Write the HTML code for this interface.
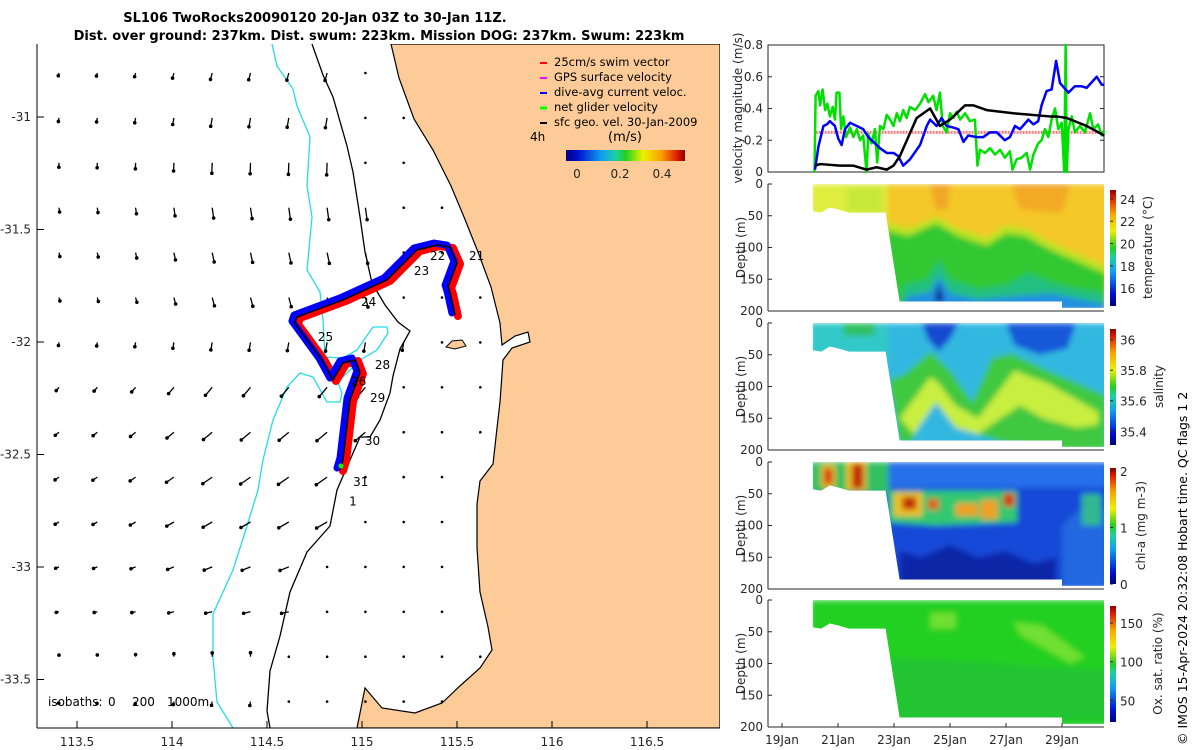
<!DOCTYPE html>
<html><head><meta charset="utf-8">
<style>
html,body{margin:0;padding:0;background:#fff;}
svg{display:block;font-family:"DejaVu Sans","Liberation Sans",sans-serif;}
.tk{font-size:12px;fill:#262626;}
</style></head>
<body>
<svg id="fig" width="1200" height="750" viewBox="0 0 1200 750">
<defs>
  <linearGradient id="jetV" x1="0" y1="1" x2="0" y2="0">
    <stop offset="0" stop-color="#000080"/><stop offset="0.1" stop-color="#0010d0"/>
    <stop offset="0.3" stop-color="#10a0f0"/><stop offset="0.42" stop-color="#20d0a0"/>
    <stop offset="0.5" stop-color="#20d020"/><stop offset="0.65" stop-color="#f0f000"/>
    <stop offset="0.8" stop-color="#f8a000"/><stop offset="0.93" stop-color="#e02000"/>
    <stop offset="1" stop-color="#900000"/>
  </linearGradient>
  <linearGradient id="jetH" x1="0" y1="0" x2="1" y2="0">
    <stop offset="0" stop-color="#000080"/><stop offset="0.1" stop-color="#0010d0"/>
    <stop offset="0.3" stop-color="#10a0f0"/><stop offset="0.42" stop-color="#20d0a0"/>
    <stop offset="0.5" stop-color="#20d020"/><stop offset="0.65" stop-color="#f0f000"/>
    <stop offset="0.8" stop-color="#f8a000"/><stop offset="0.93" stop-color="#e02000"/>
    <stop offset="1" stop-color="#900000"/>
  </linearGradient>
  <filter id="blur" x="-10%" y="-10%" width="120%" height="120%"><feGaussianBlur stdDeviation="3"/></filter>
  <clipPath id="mapclip"><rect x="37" y="44" width="683" height="684"/></clipPath>
</defs>

<text x="315" y="22" text-anchor="middle" font-weight="bold" font-size="13">SL106 TwoRocks20090120 20-Jan 03Z to 30-Jan 11Z.</text>
<text x="379" y="40" text-anchor="middle" font-weight="bold" font-size="13">Dist. over ground: 237km. Dist. swum: 223km. Mission DOG: 237km. Swum: 223km</text>

<g id="map" clip-path="url(#mapclip)">
  <rect x="37" y="44" width="683" height="684" fill="#fff"/>
  <path fill="#fccb98" stroke="#000" stroke-width="1.2"
    d="M391,44 L399,78 L414,119 L433,150 L451,186 L464,217 L478,252 L491,287 L500,323 L502,345 L515,336 L528,332 L530,342 L512,348 L503,360 L500,402 L497,428 L493,464 L480,481 L477,504 L477,548 L480,592 L488,627 L492,650 L480,668 L461,685 L442,703 L415,713 L382,708 L365,688 L357,728 L720,728 L720,44 Z"/>
  <path fill="#fccb98" stroke="#000" stroke-width="1" d="M446,347 L452,341 L462,340 L466,346 L455,349 Z"/>
  <path fill="none" stroke="#000" stroke-width="1.3"
    d="M312,44 L323,75 L333,97 L347,146 L353,172 L360,217 L365,252 L372,283 L385,305 L398,322 L410,331 L400,349 L393,376 L390,393 L380,420 L370,437 L360,437 L350,460 L337,490 L330,526 L307,552 L290,592 L280,636 L270,671 L267,711 L270,728"/>
  <path fill="none" stroke="#22dde8" stroke-width="1.3"
    d="M272,44 L277,66 L293,89 L297,106 L310,137 L307,186 L312,217 L307,270 L320,292 L323,320 L325,357 L343,358 L357,350 L373,327 L387,327 L388,333 L377,350 L360,360 L343,377 L337,380 L342,393 L340,402 L327,402 L313,377 L300,373 L287,387 L273,420 L263,460 L258,490 L247,526 L233,570 L213,614 L213,658 L217,702 L233,728"/>
  <g id="arrows"></g>
  <g id="track"></g>
  <g id="daylabels" font-size="12"></g>
  <g font-size="12">
    <text x="48" y="706">isobaths:</text><text x="108" y="706">0</text><text x="132" y="706">200</text><text x="167" y="706">1000m</text>
  </g>
</g>
<line x1="37" y1="44" x2="37" y2="728" stroke="#000"/>
<line x1="37" y1="728" x2="720" y2="728" stroke="#000"/>
<g id="mapticks" class="tk"></g>

<g font-size="11.5">
  <line x1="540" y1="63" x2="547" y2="63" stroke="#f00" stroke-width="2"/><text x="554" y="66">25cm/s swim vector</text>
  <line x1="540" y1="78" x2="547" y2="78" stroke="#f0f" stroke-width="2"/><text x="554" y="81">GPS surface velocity</text>
  <line x1="540" y1="93" x2="547" y2="93" stroke="#00f" stroke-width="2"/><text x="554" y="96">dive-avg current veloc.</text>
  <line x1="540" y1="108" x2="547" y2="108" stroke="#0f0" stroke-width="3"/><text x="554" y="111">net glider velocity</text>
  <line x1="540" y1="123" x2="547" y2="123" stroke="#000" stroke-width="2"/><text x="554" y="126">sfc geo. vel. 30-Jan-2009</text>
  <text x="530" y="141" font-size="12">4h</text>
  <text x="625" y="141" font-size="13" text-anchor="middle">(m/s)</text>
  <rect x="566" y="150" width="119" height="11" fill="url(#jetH)"/>
  <g class="tk" text-anchor="middle"><text x="577" y="178">0</text><text x="620" y="178">0.2</text><text x="662" y="178">0.4</text></g>
</g>

<g id="vel"></g>
<g id="heat"></g>

<text transform="translate(1187,745) rotate(-90)" font-size="12.5">© IMOS 15-Apr-2024 20:32:08 Hobart time. QC flags 1  2</text>
</svg>

<script>
const NS='http://www.w3.org/2000/svg';
function mk(tag,attrs,parent){const e=document.createElementNS(NS,tag);for(const k in attrs)e.setAttribute(k,attrs[k]);if(parent)parent.appendChild(e);return e;}

// ---------- map data ----------
const trackLon=[115.489,115.463,115.453,115.500,115.463,115.395,115.289,115.132,114.900,114.658,114.647,114.789,114.847,114.900,114.963,114.989,114.937,114.900,114.884];
const trackLat=[-31.880,-31.782,-31.756,-31.649,-31.578,-31.569,-31.591,-31.724,-31.813,-31.889,-31.916,-32.080,-32.169,-32.093,-32.080,-32.138,-32.258,-32.524,-32.569];
const dayLabelText=['21','22','23','24','25','28','26','29','30','31','1'];
const dayLabelLon=[115.563,115.358,115.273,114.995,114.768,115.068,114.942,115.042,115.015,114.953,114.932];
const dayLabelLat=[-31.617,-31.617,-31.685,-31.822,-31.978,-32.102,-32.176,-32.249,-32.441,-32.623,-32.708];
const lonTicks=[113.5,114,114.5,115,115.5,116,116.5];
const latTicks=[-31,-31.5,-32,-32.5,-33,-33.5];
const rowAngle=[105,100,92,82,78,75,100,130,140,145,150,158,168,-90,100];
const rowLen=[7,9,11,11,10,9,8,11,12,12,11,9,7,4,4];
const colFactor=[0.4,0.45,0.55,0.75,0.95,1,1.05,1.1,1.1,1,1,1,1,1,1,1,1,1];

function lonX(l){return 362+(l-115)*190;}
function latY(l){return 117+(-31-l)*225;}

const coastPts=[[44,391],[78,399],[119,414],[150,433],[186,451],[217,464],[252,478],[287,491],[323,500],[345,502],[360,503],[402,500],[428,497],[464,493],[481,480],[504,477],[548,477],[592,480],[627,488],[650,492],[668,480],[685,461],[728,440]];
const isoPts=[[44,312],[75,323],[97,333],[146,347],[172,353],[217,360],[252,365],[283,372],[305,385],[322,398],[331,410],[349,400],[376,393],[393,390],[420,380],[437,365],[460,350],[490,337],[526,330],[552,307],[592,290],[636,280],[671,270],[711,267],[728,270]];
function interp(pts,y){for(let i=0;i<pts.length-1;i++){if(y>=pts[i][0]&&y<=pts[i+1][0]){const t=(y-pts[i][0])/(pts[i+1][0]-pts[i][0]);return pts[i][1]+t*(pts[i+1][1]-pts[i][1]);}}return pts[pts.length-1][1];}

const arrowsG=document.getElementById('arrows');
for(let r=0;r<15;r++){
  for(let c=0;c<18;c++){
    const x=59+38.3*c, y=73+44.9*r;
    if(x>interp(coastPts,y)-6) continue;
    if(x>interp(isoPts,y)+8){
      const d=mk('circle',{cx:x,cy:y,r:1.3,fill:'#000'},arrowsG);
      
      
      continue;
    }
    const a=rowAngle[r]*Math.PI/180, L=rowLen[r]*colFactor[c];
    const x2=x+L*Math.cos(a), y2=y+L*Math.sin(a);
    const ln=mk('line',{x1:x,y1:y,x2:x2,y2:y2,stroke:'#000','stroke-width':1.3},arrowsG);
    
    
    const hd=mk('circle',{cx:x2,cy:y2,r:1.8,fill:'#000'},arrowsG);
    
    
  }
}

const trackG=document.getElementById('track');
const tp=trackLon.map((l,i)=>[lonX(l),latY(trackLat[i])]);
function ptsStr(dx,dy){return tp.map(p=>(p[0]+dx)+','+(p[1]+dy)).join(' ');}
const redL=mk('polyline',{points:ptsStr(3,1),fill:'none',stroke:'#f00','stroke-width':8,'stroke-linejoin':'round','stroke-linecap':'round'},trackG);


const blueL=mk('polyline',{points:ptsStr(-3,-2),fill:'none',stroke:'#00f','stroke-width':7,'stroke-linejoin':'round','stroke-linecap':'round'},trackG);


const blackL=mk('polyline',{points:ptsStr(0,0),fill:'none',stroke:'#000','stroke-width':1.5},trackG);


const gdot=mk('circle',{cx:tp[tp.length-1][0]+1,cy:tp[tp.length-1][1]-4,r:2.5,fill:'#0f0'},trackG);



const dl=document.getElementById('daylabels');
dayLabelText.forEach((t,i)=>{const e=mk('text',{x:lonX(dayLabelLon[i]),y:latY(dayLabelLat[i])+4},dl);e.textContent=t;
  
  });

const mt=document.getElementById('mapticks');
lonTicks.forEach(l=>{const x=lonX(l);mk('line',{x1:x,y1:728,x2:x,y2:721,stroke:'#000'},mt);
  const t=mk('text',{x:x,y:746,'text-anchor':'middle'},mt);t.textContent=l;
  
  });
latTicks.forEach(l=>{const y=latY(l);mk('line',{x1:37,y1:y,x2:44,y2:y,stroke:'#000'},mt);
  const t=mk('text',{x:31,y:y+4,'text-anchor':'end'},mt);t.textContent=l;
  
  });

// ---------- velocity panel ----------
const blueDay=[20.18,20.30,20.48,20.60,20.71,20.89,21.01,21.13,21.25,21.43,21.67,21.90,22.08,22.26,22.50,22.74,22.98,23.15,23.33,23.57,23.93,24.17,24.29,24.52,24.70,24.88,25.12,25.30,25.48,25.65,25.95,26.19,26.43,26.67,26.96,27.14,27.32,27.50,27.80,27.98,28.15,28.27,28.45,28.63,28.79,28.93,29.23,29.46,29.70,29.88,30.24,30.42,30.51];
const blueVal=[0.015,0.16,0.29,0.30,0.32,0.29,0.21,0.17,0.27,0.31,0.29,0.27,0.22,0.19,0.15,0.12,0.12,0.10,0.04,0.08,0.17,0.29,0.33,0.29,0.34,0.29,0.28,0.27,0.19,0.23,0.22,0.22,0.25,0.25,0.20,0.22,0.29,0.27,0.33,0.30,0.32,0.42,0.51,0.52,0.70,0.56,0.50,0.54,0.54,0.53,0.60,0.55,0.55];
const blackDay=[20.18,20.36,21.07,21.55,22.02,22.38,22.74,22.98,23.21,23.81,24.29,24.64,25.0,25.54,25.83,26.31,27.26,28.57,28.81,29.17,29.88,30.51];
const blackVal=[0.04,0.05,0.04,0.04,0.015,0.03,0.015,0.04,0.10,0.34,0.40,0.29,0.33,0.42,0.42,0.39,0.37,0.35,0.35,0.34,0.29,0.23];
const greenDay=[20.16,20.20,20.30,20.36,20.45,20.54,20.62,20.71,20.81,20.89,20.95,21.05,21.11,21.19,21.29,21.43,21.55,21.67,21.79,21.90,22.02,22.08,22.20,22.32,22.40,22.50,22.62,22.74,22.86,22.98,23.10,23.21,23.33,23.45,23.57,23.75,23.93,24.11,24.23,24.40,24.52,24.64,24.74,24.88,25.0,25.12,25.24,25.36,25.54,25.71,25.89,25.98,26.07,26.25,26.43,26.61,26.79,26.96,27.14,27.23,27.38,27.56,27.74,27.86,27.98,28.15,28.27,28.39,28.51,28.63,28.75,28.87,28.99,29.08,29.13,29.17,29.23,29.35,29.46,29.64,29.82,30.0,30.12,30.29,30.42,30.51];
const greenVal=[0,0.48,0.51,0.42,0.52,0.39,0.43,0.35,0.41,0.33,0.50,0.50,0.27,0.35,0.22,0.28,0.22,0.27,0.20,0.23,0.0,0.24,0.18,0.27,0.06,0.29,0.27,0.36,0.33,0.29,0.37,0.32,0.39,0.34,0.41,0.39,0.43,0.49,0.44,0.48,0.39,0.50,0.29,0.25,0.37,0.34,0.38,0.33,0.37,0.32,0.33,0.04,0.14,0.12,0.15,0.11,0.14,0.09,0.13,0.015,0.08,0.09,0.12,0.015,0.11,0.18,0.20,0.27,0.22,0.33,0.40,0.27,0.31,0,0.80,0,0.27,0.35,0.25,0.29,0.25,0.37,0.27,0.30,0.23,0.26];
const swimSpeed=0.25, swimStart=20.2, swimEnd=30.5;
const velTicks=[0,0.2,0.4,0.6,0.8];
const dateTicks=[19,21,23,25,27,29];
const dateLabels=['19Jan','21Jan','23Jan','25Jan','27Jan','29Jan'];

const PX0=768, PX1=1104;
function dayX(d){return 782+(d-19)*28;}
const VT=45, VB=172;
function velY(v){return VB-v*(VB-VT)/0.8;}

const vel=document.getElementById('vel');
mk('rect',{x:PX0,y:VT,width:PX1-PX0,height:VB-VT,fill:'#fff',stroke:'#262626','stroke-width':1},vel);
velTicks.forEach(v=>{const y=velY(v);mk('line',{x1:PX0,y1:y,x2:PX0+4,y2:y,stroke:'#262626'},vel);mk('line',{x1:PX1,y1:y,x2:PX1-4,y2:y,stroke:'#262626'},vel);
  const t=mk('text',{x:PX0-5,y:y+4,'text-anchor':'end',class:'tk'},vel);t.textContent=v;
  
  });
const vtit=mk('text',{transform:'translate(742,108) rotate(-90)','text-anchor':'middle',class:'tk'},vel);vtit.textContent='velocity magnitude (m/s)';


function poly(days,vals,color,w,name){const e=mk('polyline',{points:days.map((d,i)=>dayX(d)+','+velY(vals[i])).join(' '),fill:'none',stroke:color,'stroke-width':w,'stroke-linejoin':'round'},vel);
  
  return e;}
const sw=mk('line',{x1:dayX(swimStart),y1:velY(swimSpeed),x2:dayX(swimEnd),y2:velY(swimSpeed),stroke:'#f08080','stroke-width':3,'stroke-dasharray':'2,1'},vel);


poly(greenDay,greenVal,'#00e000',2.5,'net-glider-velocity-line');
poly(blueDay,blueVal,'#0000ff',2.5,'dive-avg-current-line');
poly(blackDay,blackVal,'#000',2.5,'sfc-geo-velocity-line');

// ---------- section panels ----------
const heat=document.getElementById('heat');
const panelTops=[184,323,462,600];
const panelH=127;
const depthTicks=[0,50,100,150,200];
const regionDay=[20.1,30.5,30.5,29.0,29.0,23.2,22.7,21.4,21.0,20.7,20.4,20.1];
const regionDepth=[0,0,195,195,185,185,45,45,40,37,45,43];
const cbarNames=['temperature (°C)','salinity','chl-a (mg m-3)','Ox. sat. ratio (%)'];
const cbarTickVals=[[16,18,20,22,24],[35.4,35.6,35.8,36],[0,1,2],[50,100,150]];
const cbarMin=[14.4,35.31,0,22];
const cbarMax=[24.8,36.07,2.05,172];

const layers=[
 [0,'#f4c828',[20,0,31,0,31,200,20,200]],
 [0,'#e0ee40',[20,0,22.75,0,22.75,60,20,60]],
 [0,'#c8e838',[21.3,5,22.6,5,22.6,45,21.3,45]],
 [0,'#f2a628',[24.3,0,25.0,0,24.9,40,24.5,40]],
 [0,'#f3a828',[27.2,0,29.3,0,29.0,45,27.5,40]],
 [0,'#b8e428',[22.7,60,23.5,70,24.5,52,25.3,70,26.3,85,27,65,27.7,70,28.3,85,29,100,29.8,115,30.6,130,30.6,200,22.7,200]],
 [0,'#30c830',[22.7,72,23.5,82,24.5,62,25.3,82,26.3,97,27,78,27.7,82,28.3,97,29,112,29.8,127,30.6,142,30.6,200,22.7,200]],
 [0,'#20c080',[23.3,160,24.2,150,24.6,120,25.0,150,26,165,27,160,27.8,140,28.6,155,29.5,165,30.6,172,30.6,200,23.3,200]],
 [0,'#2090e0',[23.4,178,24.3,170,24.6,145,25.0,172,26,182,27.5,176,28.6,172,29.5,180,30.6,190,30.6,200,23.4,200]],
 [0,'#101890',[24.45,185,24.6,155,24.8,185]],
 [1,'#30b8e0',[20,0,31,0,31,200,20,200]],
 [1,'#30c8c8',[20,0,22.8,0,22.8,60,20,60]],
 [1,'#30c060',[21.2,0,22.3,0,22.3,20,21.2,20]],
 [1,'#1448d0',[24.0,0,25.3,0,25.0,25,24.6,45,24.2,25]],
 [1,'#1458d8',[27.0,0,29.5,0,29.2,40,28.2,50,27.3,35]],
 [1,'#40c840',[22.8,90,23.4,80,24.3,45,25.0,75,25.8,125,26.5,55,27.2,48,28.5,75,30.6,115,30.6,200,29,200,27,190,26,175,25.2,150,24.5,100,23.6,190,23.2,190]],
 [1,'#c8ee40',[23.2,150,24.3,85,24.6,95,25.2,130,26,150,26.7,110,27.3,75,28.5,95,29.5,120,30.3,140,30.3,160,29.5,165,28.3,150,27.5,130,26.8,150,26,175,25.2,165,24.5,125,23.7,175]],
 [2,'#1848d8',[20,0,31,0,31,200,20,200]],
 [2,'#2870ea',[22.7,0,30.6,0,30.6,40,22.7,40]],
 [2,'#0828a8',[23.2,140,24,150,25,130,26,150,27,140,28,160,28.8,150,28.8,200,23.2,200]],
 [2,'#2468e0',[29.0,100,30.0,60,30.6,80,30.6,200,29.0,200]],
 [2,'#30b890',[29.7,50,30.4,50,30.4,100,29.7,100]],
 [2,'#30c060',[20,0,22.8,0,22.8,50,20,50]],
 [2,'#30c870',[22.8,45,27.4,45,27.4,95,24.5,100,22.8,95]],
 [2,'#f0c020',[20.4,5,20.9,5,20.9,40,20.4,40]],
 [2,'#f0c020',[21.3,0,22.0,0,22.0,45,21.3,45]],
 [2,'#d83010',[20.5,10,20.8,10,20.8,35,20.5,35]],
 [2,'#c02808',[21.5,3,21.9,3,21.9,42,21.5,42]],
 [2,'#f0c020',[23.0,48,24.0,48,24.0,85,23.0,85]],
 [2,'#c02808',[23.3,55,23.8,55,23.8,75,23.3,75]],
 [2,'#e06010',[24.2,58,24.6,58,24.6,75,24.2,75]],
 [2,'#f0a020',[25.2,65,26.0,65,26.0,85,25.2,85]],
 [2,'#f0a020',[26.1,60,26.7,60,26.7,90,26.1,90]],
 [2,'#d83010',[26.9,50,27.3,50,27.3,70,26.9,70]],
 [3,'#20d020',[20,0,31,0,31,200,20,200]],
 [3,'#24c432',[22.9,90,30.6,110,30.6,190,22.9,190]],
 [3,'#70e030',[24.3,20,25.2,20,25.2,45,24.3,45]],
 [3,'#70e030',[27.3,35,28.3,40,29.8,90,29.3,100,27.5,55]]
];

const cbTitleX=[1152,1163,1145,1162];
panelTops.forEach((top,pi)=>{
  const g=mk('g',{},heat);
  
  
  function dY(d){return top+d*panelH/200;}
  const cid='clipP'+pi;
  const cp=mk('clipPath',{id:cid},g);
  mk('polygon',{points:regionDay.map((d,i)=>dayX(d)+','+dY(regionDepth[i])).join(' ')},cp);
  const inner=mk('g',{'clip-path':'url(#'+cid+')'},g);
  const blurG=mk('g',{filter:'url(#blur)'},inner);
  layers.filter(L=>L[0]===pi).forEach(L=>{
    const a=L[2];const pts=[];for(let i=0;i<a.length;i+=2)pts.push(dayX(a[i])+','+dY(a[i+1]));
    const p=mk('polygon',{points:pts.join(' '),fill:L[1]},blurG);
    
    
  });
  mk('line',{x1:PX0,y1:top,x2:PX0,y2:top+panelH,stroke:'#262626'},g);
  mk('line',{x1:PX0,y1:top+panelH,x2:PX1,y2:top+panelH,stroke:'#262626'},g);
  depthTicks.forEach(d=>{const y=dY(d);mk('line',{x1:PX0,y1:y,x2:PX0+4,y2:y,stroke:'#262626'},g);
    const t=mk('text',{x:PX0-5,y:y+4,'text-anchor':'end',class:'tk'},g);t.textContent=d;
    
    });
  const yt=mk('text',{transform:'translate(745,'+(top+panelH/2)+') rotate(-90)','text-anchor':'middle',class:'tk'},g);yt.textContent='Depth (m)';
  
  
  const cbT=top+6, cbB=top+panelH-5;
  const cb=mk('rect',{x:1110,y:cbT,width:6,height:cbB-cbT,fill:'url(#jetV)'},g);
  
  
  cbarTickVals[pi].forEach(v=>{const y=cbB-(v-cbarMin[pi])/(cbarMax[pi]-cbarMin[pi])*(cbB-cbT);
    mk('line',{x1:1110,y1:y,x2:1113,y2:y,stroke:'#262626'},g);
    const t=mk('text',{x:1120,y:y+5,class:'tk','font-size':'13'},g);t.textContent=v;
    
    });
  const ct=mk('text',{transform:'translate('+cbTitleX[pi]+','+(top+panelH/2)+') rotate(-90)','text-anchor':'middle',class:'tk','font-size':'13.5'},g);ct.textContent=cbarNames[pi];
  
  
});
const lastTop=panelTops[3]+panelH;
dateTicks.forEach((d,i)=>{const x=dayX(d);mk('line',{x1:x,y1:lastTop,x2:x,y2:lastTop-4,stroke:'#262626'},heat);
  const t=mk('text',{x:x,y:lastTop+17,'text-anchor':'middle',class:'tk'},heat);t.textContent=dateLabels[i];
  
  });
</script>
</body></html>
